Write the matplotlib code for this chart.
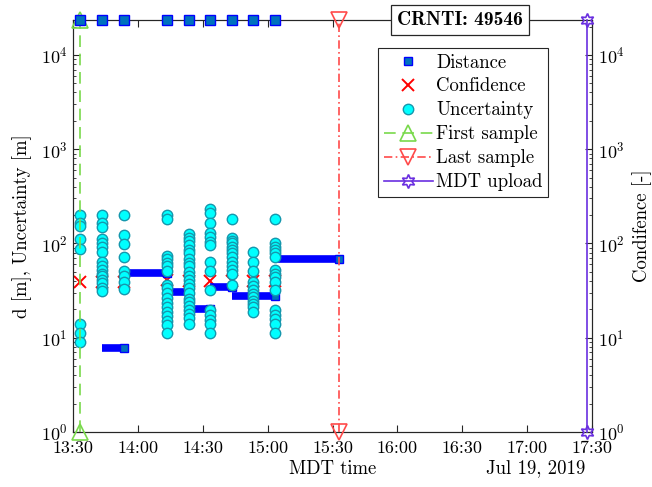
import matplotlib
matplotlib.use('Agg')
import matplotlib.pyplot as plt
import matplotlib.dates as mdates
from matplotlib.lines import Line2D
import pandas as pd

# Data (Jul 19, 2019)
day = '2019-07-19 '
sample_times = ['13:33:12', '13:43:36', '13:53:30', '14:13:18', '14:23:30',
                '14:33:30', '14:43:18', '14:53:24', '15:03:18']
first_sample = '13:33:12'
last_sample = '15:33:06'
mdt_upload = '17:27:30'

# confidence per sample (right axis)
confidence = [39, 39, 39, 41, 40, 40, 40, 40, 40]

# uncertainty values for each sample time
uncertainty = [
    [200, 164, 153, 111, 87, 14, 11.1, 9.1],
    [200, 164, 149, 111, 102, 92.5, 82, 64, 57, 52, 48, 45, 41, 38, 34, 31.6],
    [200, 123, 99, 71, 51.5, 45, 39, 32.7],
    [200, 181, 74, 68, 62.5, 57, 51.5, 36.3, 33.5, 29.6, 26.2, 23.2, 21, 18.9,
     16.8, 15.2, 13.6, 11.1],
    [125, 115, 107, 96, 85, 79, 68, 62, 57, 50, 45, 41, 37, 34, 30, 26, 24,
     21.7, 19.7, 17.9, 16, 14],
    [231, 209, 164, 128, 116, 104, 96, 64, 51.5, 32, 19.7, 17.4, 15.4, 14, 11.1],
    [181, 114, 107, 100, 92.5, 85, 79, 71, 64, 58, 52, 47.5, 36.3],
    [82, 64, 51.5, 39, 35.4, 32, 29, 26.8, 24.7, 22.8, 21, 18.9],
    [181, 100, 92.5, 85, 79, 71, 52, 48, 44, 39, 32, 19.7, 17.4, 15.7, 14, 11.1],
]

# distance: held value between two times
dist_start = ['13:43:36', '13:53:30', '14:13:18', '14:23:30', '14:33:30',
              '14:43:18', '14:53:24', '15:03:18']
dist_end = ['13:53:30', '14:13:18', '14:23:30', '14:33:30', '14:43:18',
            '14:53:24', '15:03:18', '15:33:06']
dist_val = [7.8, 49, 30.7, 20, 34.7, 27.7, 27.7, 68.4]

# distance markers that sit on the top limit
y_top = 2.35e4
dist_top = [y_top] * len(sample_times)

x_ticks = ['13:30', '14:00', '14:30', '15:00', '15:30', '16:00', '16:30',
           '17:00', '17:30']

green = '#79D94C'
red = '#FF4A4A'
purple = '#6A2FE0'


def t(s):
    return pd.to_datetime(day + s)


def main():
    plt.rcParams['font.family'] = 'cmr10'
    plt.rcParams['mathtext.fontset'] = 'cm'
    plt.rcParams['axes.formatter.use_mathtext'] = True
    plt.rcParams['axes.unicode_minus'] = False

    fig = plt.figure(figsize=(6.52, 4.87), dpi=100)
    ax = fig.add_axes([0.112, 0.113, 0.796, 0.846])
    ax2 = ax.twinx()
    # left axis drawn on top of the right one
    ax.set_zorder(ax2.get_zorder() + 1)
    ax.patch.set_visible(False)

    st = [t(s) for s in sample_times]

    # Confidence on the right axis
    ax2.plot(st, confidence, 'x', color='red', ms=8, mew=1.4, ls='none')

    # Distance
    ax.hlines(dist_val, [t(s) for s in dist_start], [t(s) for s in dist_end],
              colors='#0000FF', lw=5.5, zorder=2)
    ax.plot([t(s) for s in dist_end], dist_val, 's', ms=5.5, mfc='#0072BD',
            mec='#0000FF', mew=1, ls='none', zorder=2.1)

    # Uncertainty
    for ti, vals in zip(st, uncertainty):
        ax.plot([ti] * len(vals), vals, 'o', ms=7.5, mfc='#00FFFF',
                mec='#1597AD', mew=1, ls='none', zorder=3)

    lo = 1
    # First / last sample and MDT upload
    ax.plot([t(first_sample)] * 2, [lo, y_top], color=green, lw=1.2,
            dashes=(7, 4), marker='^', ms=12, mfc='none', mec=green, mew=1.2,
            clip_on=False, zorder=3.5)
    ax.plot([t(last_sample)] * 2, [lo, y_top], color=red, lw=1.2,
            dashes=(5, 2, 1, 2), marker='v', ms=12, mfc='none', mec=red,
            mew=1.2, clip_on=False, zorder=3.5)
    ax.plot([t(mdt_upload)] * 2, [lo, y_top], color=purple, lw=1.2,
            marker=(6, 1, 0), ms=10, mfc='none', mec=purple, mew=1.2,
            clip_on=False, zorder=3.5)

    ax.plot(st, dist_top, 's', ms=6.5, mfc='#0072BD', mec='#0000FF', mew=1,
            ls='none', clip_on=False, zorder=4)

    # Axes setup
    for a in (ax, ax2):
        a.set_yscale('log')
        a.set_ylim(lo, y_top)
        a.set_yticks([1, 10, 100, 1000, 10000])
    ax.set_xlim(t('13:30'), t('17:30'))
    ax.set_xticks([t(s) for s in x_ticks])
    ax.xaxis.set_major_formatter(mdates.DateFormatter('%H:%M'))

    ax.tick_params(which='both', direction='in', top=True, right=False,
                   labelsize=13, color='#262626', pad=4)
    ax.tick_params(axis='x', pad=6)
    ax.tick_params(which='major', length=5)
    ax.tick_params(which='minor', length=2.5)
    ax2.tick_params(which='both', direction='in', labelsize=13,
                    color='#262626', pad=4)
    ax2.tick_params(which='major', length=5)
    ax2.tick_params(which='minor', length=2.5)
    for a in (ax, ax2):
        for sp in a.spines.values():
            sp.set_color('#262626')
            sp.set_linewidth(0.8)

    ax.set_ylabel('d [m], Uncertainty [m]', fontsize=13.5, labelpad=6)
    ax2.set_ylabel('Condifence [-]', fontsize=13.5, labelpad=6)
    ax.set_xlabel('MDT time', fontsize=13.5, labelpad=3)
    ax.text(0.9865, -0.087, 'Jul 19, 2019', transform=ax.transAxes,
            ha='right', va='center', fontsize=13.5)

    ax.text(0.746, 1.0, 'CRNTI: 49546', transform=ax.transAxes, ha='center',
            va='center', fontsize=14, family='cmb10', zorder=10,
            bbox=dict(boxstyle='square,pad=0.3', fc='white', ec='#262626',
                      lw=0.9))

    # Legend
    handles = [
        Line2D([], [], ls='none', marker='s', ms=5.5, mfc='#0072BD',
               mec='#0000FF'),
        Line2D([], [], ls='none', marker='x', ms=8, mew=1.4, color='red'),
        Line2D([], [], ls='none', marker='o', ms=7.5, mfc='#00FFFF',
               mec='#1597AD'),
        Line2D([], [], color=green, lw=1.2, dashes=(7, 4), marker='^', ms=12,
               mfc='none', mec=green, mew=1.2),
        Line2D([], [], color=red, lw=1.2, dashes=(5, 2, 1, 2), marker='v',
               ms=12, mfc='none', mec=red, mew=1.2),
        Line2D([], [], color=purple, lw=1.2, marker=(6, 1, 0), ms=10,
               mfc='none', mec=purple, mew=1.2),
    ]
    labels = ['Distance', 'Confidence', 'Uncertainty', 'First sample',
              'Last sample', 'MDT upload']
    leg = ax.legend(handles, labels, loc='upper left',
                    bbox_to_anchor=(0.588, 0.932), borderaxespad=0,
                    fontsize=13.5, handlelength=2.6, handletextpad=0.2,
                    labelspacing=0.32, borderpad=0.3, fancybox=False,
                    framealpha=1, edgecolor='#262626')
    leg.get_frame().set_linewidth(0.8)
    leg.set_zorder(20)

    fig.savefig('out.png', dpi=100)


if __name__ == '__main__':
    main()
